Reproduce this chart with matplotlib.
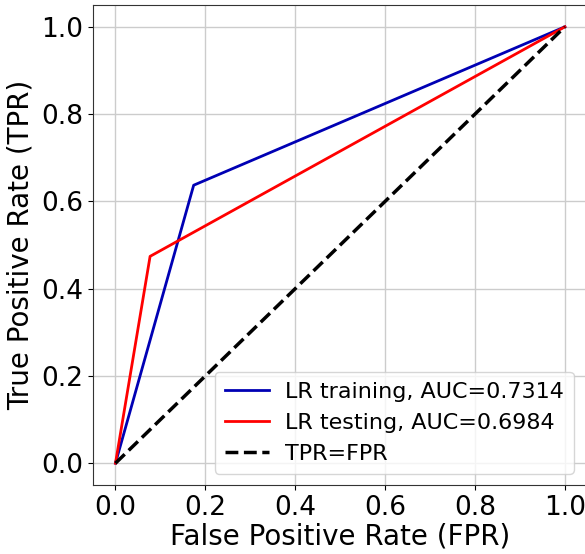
import matplotlib
matplotlib.use("Agg")
import matplotlib.pyplot as plt

train_fpr = [0.0, 0.174, 1.0]
train_tpr = [0.0, 0.637, 1.0]
test_fpr = [0.0, 0.077, 1.0]
test_tpr = [0.0, 0.474, 1.0]
diag = [0.0, 1.0]
train_label = "LR training, AUC=0.7314"
test_label = "LR testing, AUC=0.6984"
diag_label = "TPR=FPR"
ticks = [0.0, 0.2, 0.4, 0.6, 0.8, 1.0]

fig = plt.figure(figsize=(5.85, 5.54), dpi=100)
ax = fig.add_axes([0.159, 0.1245, 0.845, 0.8665])
ax.plot(train_fpr, train_tpr, color="#0000b4", lw=2, label=train_label)
ax.plot(test_fpr, test_tpr, color="red", lw=2, label=test_label)
ax.plot(diag, diag, color="black", lw=2.5, ls="--", label=diag_label)
ax.set_xlim(-0.05, 1.05)
ax.set_ylim(-0.05, 1.05)
ax.set_xticks(ticks)
ax.set_yticks(ticks)
ax.set_xticklabels([f"{t:.1f}" for t in ticks])
ax.set_yticklabels([f"{t:.1f}" for t in ticks])
ax.tick_params(labelsize=19)
ax.set_xlabel("False Positive Rate (FPR)", fontsize=20, labelpad=1)
ax.set_ylabel("True Positive Rate (TPR)", fontsize=20, labelpad=5)
ax.grid(True, color="#cccccc", lw=1)
ax.legend(loc="lower right", fontsize=16, handlelength=2.0, borderpad=0.45,
          labelspacing=0.5, handletextpad=0.7, bbox_to_anchor=(0.995, 0.0))
for s in ax.spines.values():
    s.set_color("#333333")
fig.savefig("out.png", dpi=100)
